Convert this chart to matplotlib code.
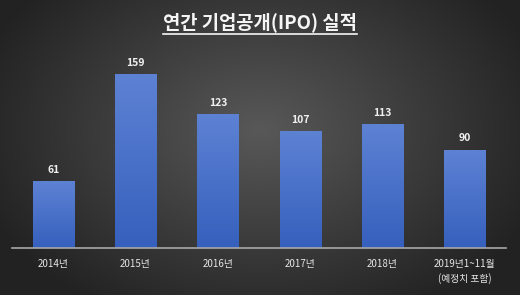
import matplotlib
matplotlib.use("Agg")
import matplotlib.pyplot as plt
import numpy as np
from matplotlib.colors import LinearSegmentedColormap

plt.rcParams['font.family'] = ['Noto Sans CJK KR', 'DejaVu Sans']

categories = ["2014년", "2015년", "2016년", "2017년", "2018년", "2019년1~11월\n(예정치 포함)"]
values = [61, 159, 123, 107, 113, 90]
title = "연간 기업공개(IPO) 실적"

fig = plt.figure(figsize=(5.2, 2.95), dpi=100)

# radial background: lighter centre, dark edges
bg = fig.add_axes([0, 0, 1, 1], zorder=0)
yy, xx = np.mgrid[0:295, 0:520]
r = np.sqrt(((xx - 260) / 300.0) ** 2 + ((yy - 130) / 210.0) ** 2)
shade = np.clip(1 - r, 0, 1)
bg_cmap = LinearSegmentedColormap.from_list("bg", ["#222222", "#585858"])
bg.imshow(shade, cmap=bg_cmap, aspect="auto", extent=[0, 1, 0, 1], origin="upper")
bg.axis("off")

ax = fig.add_axes([12 / 520, 47 / 295, 494 / 520, 196 / 295], zorder=1)
ax.patch.set_alpha(0)
x = np.arange(len(categories))
bars = ax.bar(x, values, width=0.5, color="none", edgecolor="#2a3f6e", linewidth=0.6)

# vertical gradient inside each bar
bar_cmap = LinearSegmentedColormap.from_list("bar", ["#3660bd", "#5d82d4"])
grad = np.linspace(0, 1, 100).reshape(-1, 1)
for b in bars:
    x0, w, h = b.get_x(), b.get_width(), b.get_height()
    ax.imshow(grad, cmap=bar_cmap, aspect="auto", origin="lower",
              extent=[x0, x0 + w, 0, h], zorder=2)
    ax.text(x0 + w / 2, h + 6, str(int(h)), ha="center", va="bottom",
            fontsize=7.5, color="#f0f0f0", fontweight="bold", zorder=3)

ax.set_xlim(-0.5, len(categories) - 0.5)
ax.set_ylim(0, 180)
ax.set_xticks(x)
ax.set_xticklabels(categories, fontsize=7, color="#e6e6e6", linespacing=1.5)
ax.tick_params(axis="x", length=0, pad=8)
ax.set_yticks([])
for s in ["top", "right", "left"]:
    ax.spines[s].set_visible(False)
ax.spines["bottom"].set_color("#a8a8a8")
ax.spines["bottom"].set_linewidth(1.2)

t = fig.text(0.5, 1 - 22 / 295, title, ha="center", va="center",
             fontsize=13.5, fontweight="bold", color="#f5f5f5")
fig.canvas.draw()
bb = t.get_window_extent().transformed(fig.transFigure.inverted())
fig.add_artist(plt.Line2D([bb.x0, bb.x1], [bb.y0 - 0.008, bb.y0 - 0.008],
                          transform=fig.transFigure, color="#f5f5f5", linewidth=1.2))

fig.savefig("out.png", dpi=100)
